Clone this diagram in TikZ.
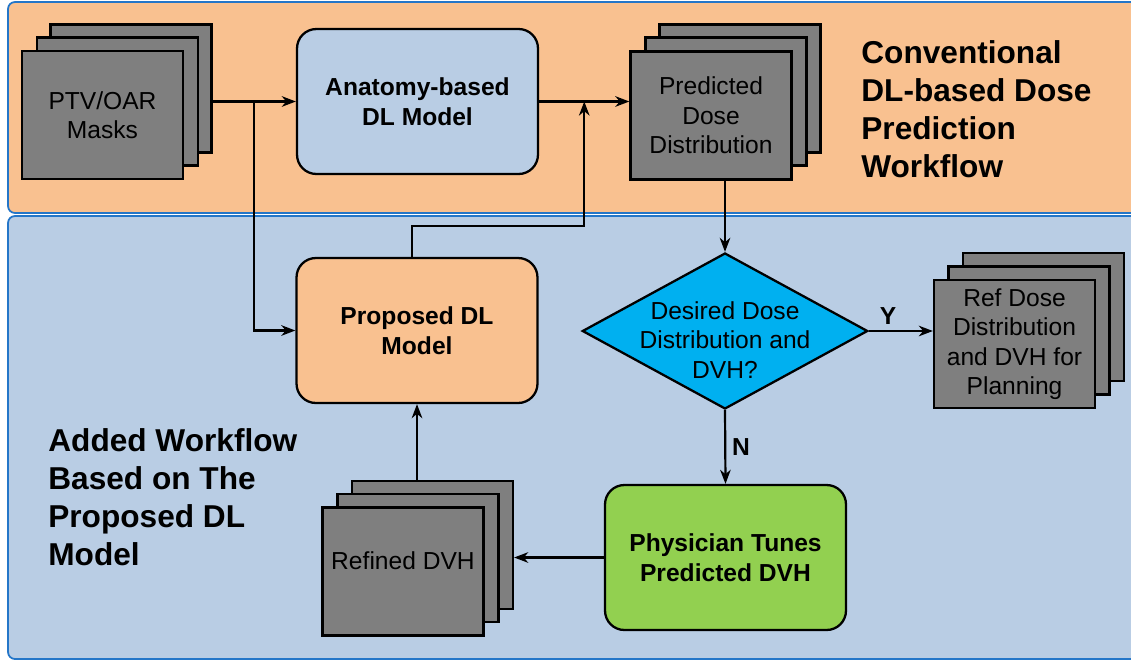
\documentclass[tikz,border=0pt]{standalone}
\usepackage{fontspec}
\setmainfont{Liberation Sans}
\usepackage{xcolor}
\usetikzlibrary{shapes.geometric,arrows.meta,calc}
\definecolor{panelorange}{RGB}{249,193,144}
\definecolor{panelblue}{RGB}{185,205,228}
\definecolor{panelline}{RGB}{36,118,200}
\definecolor{stackgray}{RGB}{127,127,127}
\definecolor{decisioncyan}{RGB}{0,176,240}
\definecolor{tunegreen}{RGB}{146,208,80}

\begin{document}
\begin{tikzpicture}[x=0.02cm, y=-0.02cm,
        every node/.style={font=\fontsize{14}{16.8}\selectfont},
        panel/.style={draw=panelline, line width=1pt, rounded corners=4pt},
        layer/.style={draw=black, fill=stackgray, line width=1.3pt, minimum width=3.22cm, minimum height=2.56cm, inner sep=0pt, align=center},
        model/.style={draw=black, line width=1.3pt, rounded corners=11pt, minimum width=4.82cm, minimum height=2.9cm, align=center, font=\fontsize{14}{16.8}\selectfont\bfseries},
        arr/.style={line width=1.25pt, -{Stealth[length=8pt, width=6pt, inset=2.5pt]}},
        title/.style={anchor=west, align=left, inner sep=0pt, font=\fontsize{18}{21.6}\selectfont\bfseries}]
        \useasboundingbox (0,0) rectangle (1131,663);
        \clip (0,0) rectangle (1131,663);
        \fill[white] (0,0) rectangle (1131,663);
        \draw[panel, fill=panelorange] (8,2) rectangle (1145,213);
        \draw[panel, fill=panelblue] (8,216) rectangle (1145,659);

        \node[title] (convtitle) at (861,109) {Conventional\\DL-based Dose\\Prediction\\Workflow};
        \node[title] (addtitle) at (48,497) {Added Workflow\\Based on The\\Proposed DL\\Model};

        \node[layer] (masksc) at (131,88.5) {};
        \node[layer] (masksb) at (117.5,101.5) {};
        \node[layer] (masks) at (102.5,115) {PTV/OAR\\Masks};

        \node[layer] (predc) at (740,88.5) {};
        \node[layer] (predb) at (726,101.5) {};
        \node[layer] (pred) at (711,115.5) {Predicted\\Dose\\Distribution};

        \node[layer] (refc) at (1043.5,317) {};
        \node[layer] (refb) at (1029,330.5) {};
        \node[layer] (ref) at (1014.5,344) {Ref Dose\\Distribution\\and DVH for\\Planning};

        \node[layer] (refinedc) at (432.5,545) {};
        \node[layer] (refinedb) at (418,558) {};
        \node[layer, text depth=12pt] (refined) at (403,571.5) {Refined DVH};

        \node[model, fill=panelblue] (anatomy) at (417.5,101.5) {Anatomy-based\\DL Model};
        \node[model, fill=panelorange] (proposed) at (417,330.5) {Proposed DL\\Model};
        \node[model, fill=tunegreen] (tune) at (725.5,557.5) {Physician Tunes\\Predicted DVH};
        \node[draw=black, line width=1.3pt, fill=decisioncyan, diamond, aspect=1.83, inner xsep=-4pt, inner ysep=-7pt, text height=54pt, align=center] (decision) at (725,331) {Desired Dose\\Distribution and\\DVH?};

        \coordinate (split) at ($(masksc.east |- anatomy.west)!0.5!(anatomy.west)$);
        \coordinate (merge) at ($(anatomy.east)!0.5!(pred.west |- anatomy.east)$);
        \draw[arr] (masksc.east |- anatomy.west) -- (anatomy.west);
        \draw[arr] (split) |- (proposed.west);
        \draw[arr] (anatomy.east) -- (pred.west |- anatomy.east);
        \draw[arr] ([xshift=-3pt]proposed.north) -- ++(0,-31) -| (merge);
        \draw[arr] (decision.north |- pred.south) -- (decision.north);
        \draw[arr] (decision.east) -- node[pos=0.3, above, font=\fontsize{14}{16.8}\selectfont\bfseries] {Y} (ref.west |- decision.east);
        \draw[arr] (decision.south) -- node[midway, right, font=\fontsize{14}{16.8}\selectfont\bfseries] {N} (tune.north);
        \draw[arr] (tune.west) -- (refinedc.east |- tune.west);
        \draw[arr] (refinedc.north -| proposed.south) -- (proposed.south);
    \end{tikzpicture}
\end{document}
